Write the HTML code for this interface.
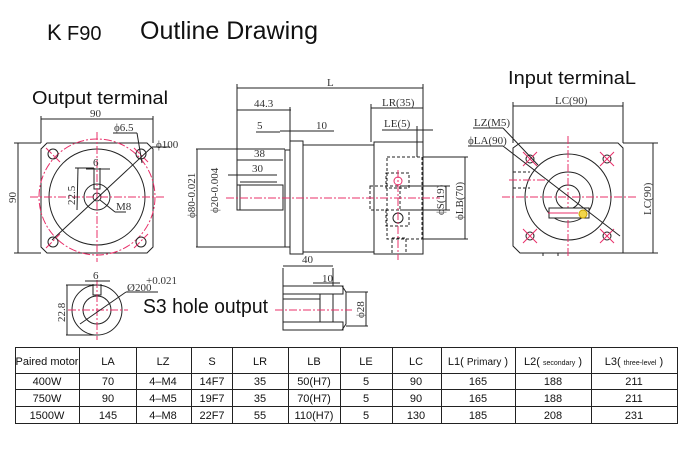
<!DOCTYPE html>
<html><head><meta charset="utf-8"><style>
html,body{margin:0;padding:0;background:#fff;width:692px;height:458px;overflow:hidden}
svg{display:block}
.d{font-family:"Liberation Serif",serif;font-size:11px;fill:#333}
.t{font-family:"Liberation Sans",sans-serif;fill:#111}
.k{stroke:#222;fill:none;stroke-width:1}
.p{stroke:#e8306a;fill:none;stroke-width:1;stroke-dasharray:8 2 2 2}
.h{stroke:#222;fill:none;stroke-width:1;stroke-dasharray:3 2}
.tb{font-family:"Liberation Sans",sans-serif;font-size:11px;fill:#111;text-anchor:middle}
</style></head><body>
<svg width="692" height="458" viewBox="0 0 692 458" xmlns="http://www.w3.org/2000/svg">
<text x="47" y="40" class="t" font-size="22">K</text><text x="67" y="40" class="t" font-size="20">F90</text>
<text x="140" y="39" class="t" font-size="25" textLength="178" lengthAdjust="spacingAndGlyphs">Outline Drawing</text>
<text x="32" y="104" class="t" font-size="18" textLength="136" lengthAdjust="spacingAndGlyphs">Output terminal</text>
<text x="508" y="84" class="t" font-size="18" textLength="128" lengthAdjust="spacingAndGlyphs">Input terminaL</text>
<text x="143" y="313" class="t" font-size="20" textLength="125" lengthAdjust="spacingAndGlyphs">S3 hole output</text>

<!-- Output view -->
<g>
<path class="k" d="M47 143 H147 L153 149 V247 L147 253 H47 L41 247 V149 Z"/>
<circle class="p" cx="97" cy="197" r="58"/>
<circle class="k" cx="97" cy="197" r="48"/>
<circle class="k" cx="97" cy="197" r="13"/>
<circle class="k" cx="97" cy="197" r="4"/>
<path class="k" d="M94 168 V189 H100 V168"/>
<line class="p" x1="30" y1="197" x2="164" y2="197"/><line class="p" x1="97" y1="132" x2="97" y2="262"/>
<g class="k"><circle cx="53" cy="154" r="5"/><circle cx="141" cy="154" r="5"/><circle cx="53" cy="242" r="5"/><circle cx="141" cy="242" r="5"/></g>
<path class="p" d="M46 148 L60 162 M134 148 L148 162 M46 248 L60 234 M134 248 L148 234" />
<line class="k" x1="52" y1="240" x2="152" y2="147"/>
<line class="k" x1="152" y1="147" x2="170" y2="147"/>
<line class="k" x1="41" y1="119" x2="153" y2="119"/><line class="k" x1="41" y1="116" x2="41" y2="143"/><line class="k" x1="153" y1="116" x2="153" y2="143"/>
<text x="90" y="117" class="d">90</text>
<line class="k" x1="18" y1="143" x2="18" y2="253"/><line class="k" x1="14" y1="143" x2="41" y2="143"/><line class="k" x1="14" y1="253" x2="41" y2="253"/>
<text x="0" y="0" class="d" transform="translate(16 203) rotate(-90)">90</text>
<text x="114" y="131" class="d">ϕ6.5</text><line class="k" x1="113" y1="133" x2="137" y2="133"/><line class="k" x1="137" y1="133" x2="142" y2="163"/>
<text x="156" y="148" class="d">ϕ100</text>
<line class="k" x1="78" y1="168" x2="77" y2="210"/><line class="k" x1="75" y1="168" x2="94" y2="168"/>
<text x="0" y="0" class="d" transform="translate(75 205) rotate(-90)">22.5</text>
<line class="k" x1="86" y1="169" x2="110" y2="169"/><text x="93" y="166" class="d">6</text>
<line class="k" x1="100" y1="200" x2="115" y2="212"/><line class="k" x1="115" y1="212" x2="126" y2="212"/><text x="116" y="210" class="d" font-size="10">M8</text>
</g>

<!-- S3 hole -->
<g>
<circle class="k" cx="97" cy="310" r="25"/><circle class="k" cx="97" cy="310" r="14"/>
<path class="k" d="M93 284 V295 H101 V284"/>
<line class="p" x1="68" y1="310" x2="128" y2="310"/><line class="p" x1="97" y1="280" x2="97" y2="340"/>
<line class="k" x1="85" y1="281" x2="110" y2="281"/><text x="93" y="279" class="d">6</text>
<line class="k" x1="66" y1="285" x2="97" y2="285"/><line class="k" x1="66" y1="335" x2="97" y2="335"/><line class="k" x1="67" y1="285" x2="67" y2="335"/>
<text x="0" y="0" class="d" transform="translate(65 322) rotate(-90)">22.8</text>
<line class="k" x1="80" y1="324" x2="126" y2="292"/><line class="k" x1="126" y1="292" x2="158" y2="292"/>
<text x="127" y="291" class="d" font-size="10">Ø20</text><text x="146" y="284" class="d" font-size="6">+0.021</text><text x="146" y="291" class="d" font-size="6">0</text>
</g>

<!-- Side view -->
<g>
<line class="k" x1="196" y1="149" x2="285" y2="149"/><line class="k" x1="196" y1="247" x2="285" y2="247"/>
<line class="k" x1="197" y1="149" x2="197" y2="247"/>
<text x="0" y="0" class="d" transform="translate(195 218) rotate(-90)">ϕ80-0.021</text>
<rect class="k" x="285" y="150" width="5" height="97"/>
<rect class="k" x="290" y="141" width="13" height="113"/>
<rect class="k" x="303" y="145" width="71" height="107"/>
<rect class="k" x="374" y="142" width="49" height="112"/>
<rect class="k" x="237" y="185" width="46" height="25"/>
<line class="k" x1="240" y1="185" x2="240" y2="210"/>
<line class="k" x1="240" y1="182" x2="277" y2="182"/>
<rect class="h" x="387" y="157" width="35" height="82"/>
<rect class="h" x="370" y="186" width="30" height="24"/>
<rect class="h" x="386" y="173" width="23" height="15"/>
<rect class="h" x="386" y="210" width="23" height="16"/>
<circle class="k" cx="398" cy="218" r="5"/>
<rect class="h" x="392" y="238" width="14" height="16"/>
<line class="p" x1="226" y1="198" x2="440" y2="198"/>
<line class="p" x1="398" y1="170" x2="398" y2="260"/>
<circle cx="398" cy="181" r="4" fill="none" stroke="#e8306a"/>
<line class="k" x1="237" y1="88" x2="423" y2="88"/><line class="k" x1="237" y1="84" x2="237" y2="185"/><line class="k" x1="423" y1="84" x2="423" y2="142"/>
<text x="327" y="86" class="d">L</text>
<line class="k" x1="237" y1="110" x2="291" y2="110"/><line class="k" x1="290" y1="107" x2="290" y2="141"/><text x="254" y="107" class="d">44.3</text>
<line class="k" x1="371" y1="108" x2="423" y2="108"/><line class="k" x1="371" y1="104" x2="371" y2="142"/><text x="382" y="106" class="d">LR(35)</text>
<line class="k" x1="382" y1="130" x2="433" y2="130"/><line class="k" x1="417" y1="126" x2="417" y2="157"/><text x="384" y="127" class="d">LE(5)</text>
<line class="k" x1="256" y1="132" x2="280" y2="132"/><line class="k" x1="280" y1="131" x2="303" y2="131"/><text x="257" y="129" class="d">5</text>
<line class="k" x1="303" y1="131" x2="334" y2="131"/><text x="316" y="129" class="d">10</text>
<line class="k" x1="237" y1="160" x2="283" y2="160"/><text x="254" y="157" class="d">38</text>
<line class="k" x1="228" y1="175" x2="277" y2="175"/><text x="252" y="172" class="d">30</text>
<text x="0" y="0" class="d" transform="translate(218 213) rotate(-90)">ϕ20-0.004</text>
<line class="k" x1="400" y1="186" x2="450" y2="186"/><line class="k" x1="400" y1="210" x2="450" y2="210"/><line class="k" x1="446" y1="186" x2="446" y2="210"/>
<text x="0" y="0" class="d" transform="translate(444 215) rotate(-90)">ϕS(19)</text>
<line class="k" x1="423" y1="157" x2="468" y2="157"/><line class="k" x1="423" y1="239" x2="468" y2="239"/><line class="k" x1="465" y1="157" x2="465" y2="239"/>
<text x="0" y="0" class="d" transform="translate(463 220) rotate(-90)">ϕLB(70)</text>
<line class="k" x1="283" y1="266" x2="333" y2="266"/><text x="302" y="263" class="d">40</text>
</g>

<!-- Hole detail -->
<g>
<path class="k" d="M283 286 H342 L346 292 V324 L342 330 H283 Z"/>
<rect class="k" x="283" y="286" width="60" height="8" fill="none"/>
<rect class="k" x="283" y="322" width="60" height="8"/>
<line class="k" x1="283" y1="299" x2="320" y2="299"/>
<line class="k" x1="320" y1="294" x2="320" y2="322"/><line class="k" x1="333" y1="294" x2="333" y2="322"/>
<line class="p" x1="275" y1="310" x2="352" y2="310"/>
<line class="k" x1="283" y1="268" x2="283" y2="286"/><line class="k" x1="333" y1="268" x2="333" y2="286"/>
<line class="k" x1="313" y1="283" x2="340" y2="283"/><text x="322" y="282" class="d">10</text>
<line class="k" x1="346" y1="292" x2="368" y2="292"/><line class="k" x1="346" y1="326" x2="368" y2="326"/><line class="k" x1="366" y1="292" x2="366" y2="326"/>
<text x="0" y="0" class="d" transform="translate(364 318) rotate(-90)">ϕ28</text>
</g>

<!-- Input view -->
<g>
<path class="k" d="M520 143 H618 L623 148 V253 H520 L513 246 V148 Z"/>
<circle class="k" cx="568" cy="197" r="43"/>
<circle class="k" cx="568" cy="197" r="25"/>
<circle class="k" cx="568" cy="197" r="12"/>
<line class="p" x1="502" y1="197" x2="636" y2="197"/><line class="p" x1="568" y1="136" x2="568" y2="258"/>
<g class="k"><circle cx="530" cy="159" r="4"/><circle cx="607" cy="159" r="4"/><circle cx="530" cy="236" r="4"/><circle cx="607" cy="236" r="4"/></g>
<path class="p" d="M523 152 L537 166 M537 152 L523 166 M600 152 L614 166 M614 152 L600 166 M523 229 L537 243 M537 229 L523 243 M600 229 L614 243 M614 229 L600 243" style="stroke-dasharray:none"/>
<path class="h" d="M513 172 H530 M513 188 H530"/><line class="p" x1="509" y1="180" x2="548" y2="180"/>
<path class="h" d="M543 253 V258 M558 253 V258"/>
<rect x="549" y="208" width="40" height="10" fill="#fff" stroke="#222"/>
<line x1="548" y1="213" x2="578" y2="213" stroke="#e8306a"/>
<circle cx="583" cy="214" r="4" fill="#f2d64a" stroke="#c9a200"/>
<line class="k" x1="513" y1="106" x2="623" y2="106"/><line class="k" x1="513" y1="102" x2="513" y2="143"/><line class="k" x1="623" y1="102" x2="623" y2="143"/>
<text x="555" y="104" class="d">LC(90)</text>
<line class="k" x1="653" y1="143" x2="653" y2="253"/><line class="k" x1="623" y1="143" x2="658" y2="143"/><line class="k" x1="623" y1="253" x2="658" y2="253"/>
<text x="0" y="0" class="d" transform="translate(651 215) rotate(-90)">LC(90)</text>
<line class="k" x1="473" y1="128" x2="503" y2="128"/><line class="k" x1="503" y1="128" x2="538" y2="165"/><text x="474" y="126" class="d">LZ(M5)</text>
<line class="k" x1="468" y1="146" x2="503" y2="146"/><line class="k" x1="503" y1="146" x2="620" y2="236"/><text x="468" y="144" class="d">ϕLA(90)</text>
</g>

<!-- Table -->
<g stroke="#222" stroke-width="1" fill="none">
<rect x="15.5" y="347.5" width="662" height="76"/>
<line x1="15" y1="373.5" x2="678" y2="373.5"/><line x1="15" y1="389.5" x2="678" y2="389.5"/><line x1="15" y1="406.5" x2="678" y2="406.5"/>
<line x1="79.5" y1="347" x2="79.5" y2="423"/><line x1="136.5" y1="347" x2="136.5" y2="423"/><line x1="191.5" y1="347" x2="191.5" y2="423"/><line x1="232.5" y1="347" x2="232.5" y2="423"/><line x1="288.5" y1="347" x2="288.5" y2="423"/><line x1="340.5" y1="347" x2="340.5" y2="423"/><line x1="392.5" y1="347" x2="392.5" y2="423"/><line x1="441.5" y1="347" x2="441.5" y2="423"/><line x1="515.5" y1="347" x2="515.5" y2="423"/><line x1="591.5" y1="347" x2="591.5" y2="423"/>
</g>
<g class="tb">
<text x="47" y="365">Paired motor</text><text x="108" y="365">LA</text><text x="163" y="365">LZ</text><text x="212" y="365">S</text><text x="260" y="365">LR</text><text x="314" y="365">LB</text><text x="366" y="365">LE</text><text x="416" y="365">LC</text>
<text x="478" y="365">L1( <tspan font-size="10">Primary</tspan> )</text><text x="553" y="365">L2( <tspan font-size="7">secondary</tspan> )</text><text x="634" y="365">L3( <tspan font-size="7">three-level</tspan> )</text>
<text x="47" y="385">400W</text><text x="108" y="385">70</text><text x="163" y="385">4–M4</text><text x="212" y="385">14F7</text><text x="260" y="385">35</text><text x="314" y="385">50(H7)</text><text x="366" y="385">5</text><text x="416" y="385">90</text><text x="478" y="385">165</text><text x="553" y="385">188</text><text x="634" y="385">211</text>
<text x="47" y="402">750W</text><text x="108" y="402">90</text><text x="163" y="402">4–M5</text><text x="212" y="402">19F7</text><text x="260" y="402">35</text><text x="314" y="402">70(H7)</text><text x="366" y="402">5</text><text x="416" y="402">90</text><text x="478" y="402">165</text><text x="553" y="402">188</text><text x="634" y="402">211</text>
<text x="47" y="419">1500W</text><text x="108" y="419">145</text><text x="163" y="419">4–M8</text><text x="212" y="419">22F7</text><text x="260" y="419">55</text><text x="314" y="419">110(H7)</text><text x="366" y="419">5</text><text x="416" y="419">130</text><text x="478" y="419">185</text><text x="553" y="419">208</text><text x="634" y="419">231</text>
</g>
</svg>
</body></html>
